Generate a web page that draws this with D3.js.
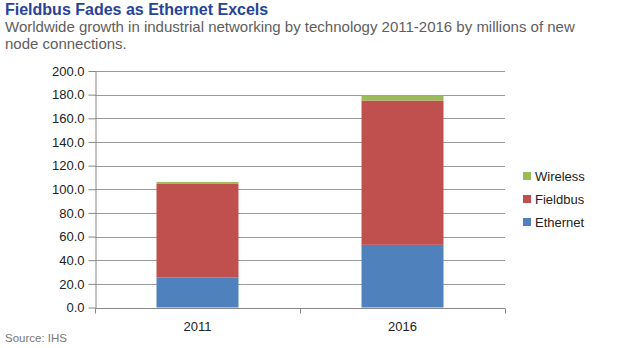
<!DOCTYPE html>
<html>
<head>
<meta charset="utf-8">
<script src="https://cdn.jsdelivr.net/npm/d3@7"></script>
<style>
  body { margin: 0; background: #fff; }
  svg { font-family: "Liberation Sans", Arial, Helvetica, sans-serif; }
</style>
</head>
<body>
<div id="chart"></div>
<script>
// data
const years = ['2011', '2016'];
const seriesNames = ['Ethernet', 'Fieldbus', 'Wireless'];
const ethernet = [25.5, 53.0];
const fieldbus = [79.0, 122.0];
const wireless = [1.7, 4.5];
const yTicks = [0, 20, 40, 60, 80, 100, 120, 140, 160, 180, 200];

const colors = {Ethernet: '#4f81bd', Fieldbus: '#c0504d', Wireless: '#9bbb59'};

const margin = {top: 71, right: 115, bottom: 40.5, left: 95};
const width = 620 - margin.left - margin.right;
const height = 348 - margin.top - margin.bottom;

let svg = d3.select('#chart').append('svg')
  .attr('width', 620)
  .attr('height', 348);

// titles
svg.append('text')
  .attr('x', 5).attr('y', 15)
  .attr('font-size', 16).attr('font-weight', 'bold')
  .attr('fill', '#27449a')
  .text('Fieldbus Fades as Ethernet Excels');

svg.append('text')
  .attr('x', 5).attr('y', 32)
  .attr('font-size', 15).attr('fill', '#5e5e5e')
  .text('Worldwide growth in industrial networking by technology 2011-2016 by millions of new');

svg.append('text')
  .attr('x', 5).attr('y', 49)
  .attr('font-size', 15).attr('fill', '#5e5e5e')
  .text('node connections.');

svg.append('text')
  .attr('x', 5).attr('y', 342)
  .attr('font-size', 11.5).attr('fill', '#777')
  .text('Source: IHS');

let g = svg.append('g')
  .attr('transform', 'translate(' + margin.left + ',' + margin.top + ')');

let x = d3.scaleBand()
  .domain(years)
  .range([0, width])
  .paddingInner(0.6)
  .paddingOuter(0.3);

let y = d3.scaleLinear()
  .domain([0, 200])
  .range([height, 0]);

// gridlines
g.append('g')
  .selectAll('line')
  .data(yTicks.slice(1))
  .enter().append('line')
  .attr('x1', 0).attr('x2', width)
  .attr('y1', d => Math.round(y(d)) + 0.5)
  .attr('y2', d => Math.round(y(d)) + 0.5)
  .attr('stroke', '#9a9a9a');

// stacked bars
let table = years.map((yr, i) => ({
  year: yr, Ethernet: ethernet[i], Fieldbus: fieldbus[i], Wireless: wireless[i]
}));
let stacked = d3.stack().keys(seriesNames)(table);

g.selectAll('.layer')
  .data(stacked)
  .enter().append('g')
  .attr('class', 'layer')
  .attr('fill', d => colors[d.key])
  .selectAll('rect')
  .data(d => d)
  .enter().append('rect')
  .attr('x', d => x(d.data.year))
  .attr('width', x.bandwidth())
  .attr('y', d => y(d[1]))
  .attr('height', d => y(d[0]) - y(d[1]));

// y axis
let yAxis = g.append('g')
  .attr('transform', 'translate(0.5,0)')
  .call(d3.axisLeft(y).tickValues(yTicks).tickFormat(d3.format('.1f')).tickSize(7).tickSizeOuter(0));
yAxis.selectAll('text').attr('font-size', 13).attr('fill', '#222').attr('font-family', null).attr('dx', '-1');
yAxis.selectAll('line').attr('stroke', '#888');
yAxis.select('.domain').attr('stroke', '#888');

// x axis
let xAxis = g.append('g')
  .attr('transform', 'translate(0,' + (Math.round(height) + 0.5) + ')');
xAxis.append('line')
  .attr('x1', 0).attr('x2', width)
  .attr('stroke', '#888');
xAxis.selectAll('.sep')
  .data([0, x.step(), width])
  .enter().append('line')
  .attr('x1', d => Math.round(d) + 0.5).attr('x2', d => Math.round(d) + 0.5)
  .attr('y1', 0).attr('y2', 5)
  .attr('stroke', '#888');
xAxis.selectAll('.lbl')
  .data(years)
  .enter().append('text')
  .attr('x', d => x(d) + x.bandwidth() / 2)
  .attr('y', 22)
  .attr('text-anchor', 'middle')
  .attr('font-size', 13)
  .attr('fill', '#222')
  .text(d => d);

// legend
let legend = svg.append('g')
  .attr('transform', 'translate(523,172)');
let items = seriesNames.slice().reverse();
let li = legend.selectAll('g')
  .data(items)
  .enter().append('g')
  .attr('transform', (d, i) => 'translate(0,' + (i * 23) + ')');
li.append('rect')
  .attr('width', 8).attr('height', 8)
  .attr('fill', d => colors[d]);
li.append('text')
  .attr('x', 12).attr('y', 8.5)
  .attr('font-size', 13).attr('fill', '#222')
  .text(d => d);
</script>
</body>
</html>
